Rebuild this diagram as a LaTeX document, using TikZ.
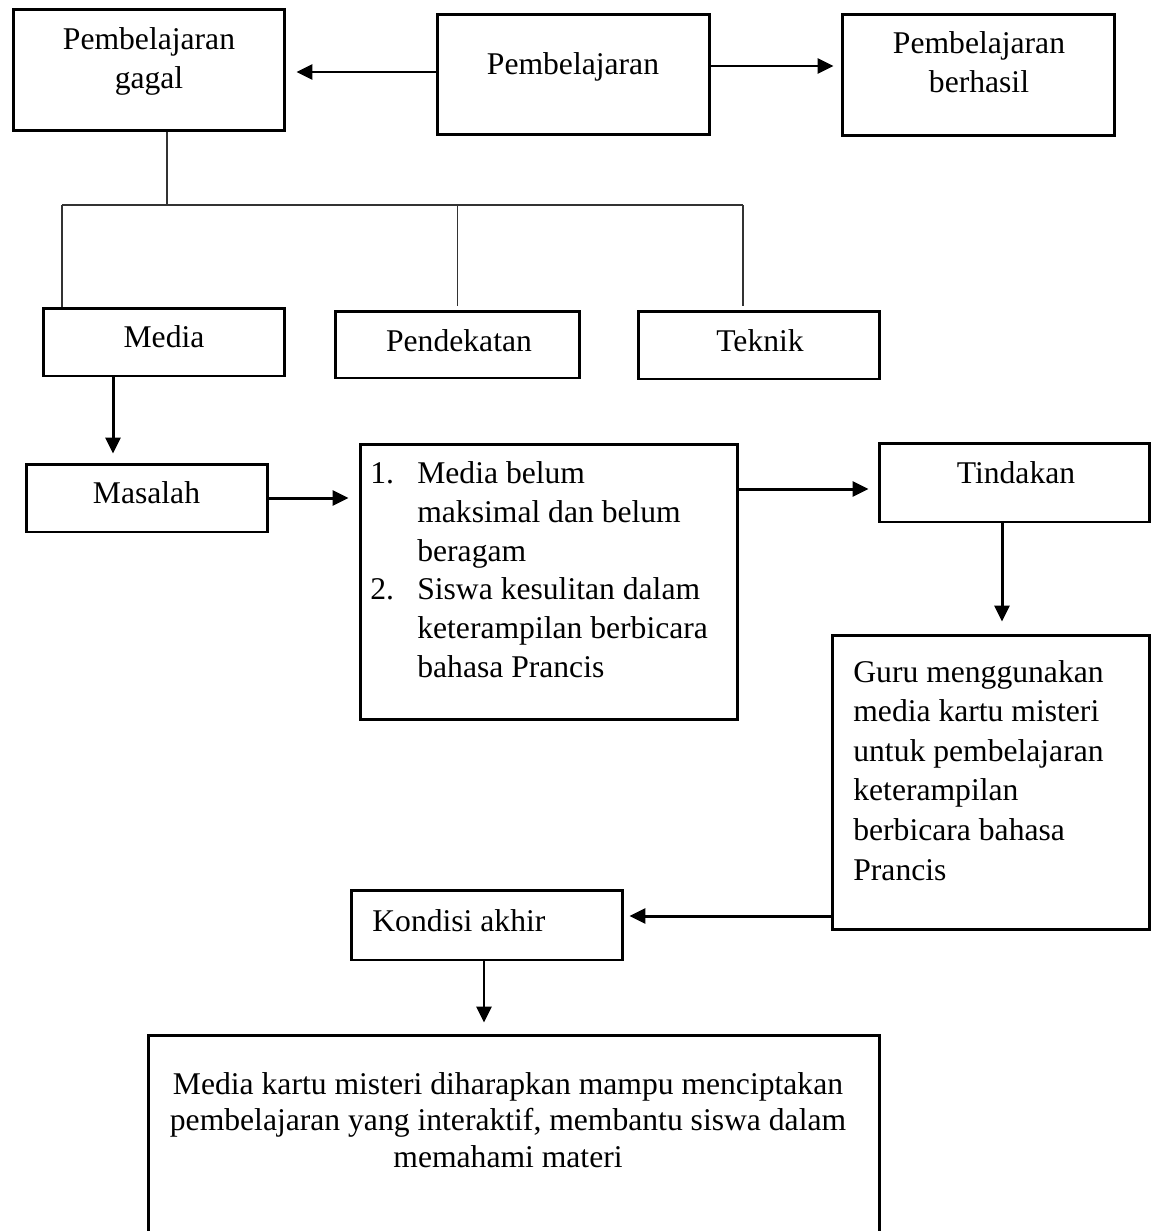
\documentclass[tikz,border=0pt]{standalone}
\usepackage{fontspec}
\setmainfont{Liberation Serif}
\usetikzlibrary{arrows.meta}

\begin{document}
\begin{tikzpicture}
            [x=0.02cm,y=-0.02cm,every node/.style={inner sep=0pt},
             kotak/.style={draw,line width=1.7pt,rectangle},
             teks/.style={font=\fontsize{18}{22}\selectfont,align=center},
             panah/.style={line width=1.7pt,-{Triangle[length=0.32cm,width=0.3cm]}},
             garis/.style={line width=0.8pt,black!80}]
            \useasboundingbox (0,0) rectangle (1154,1231);
            \clip (0,0) rectangle (1154,1231);
            % kotak
            \node[kotak,minimum width=5.44cm,minimum height=2.44cm] (gagal) at (149,70) {};
            \node[kotak,minimum width=5.46cm,minimum height=2.42cm] (pemb) at (573.5,74.5) {};
            \node[kotak,minimum width=5.46cm,minimum height=2.44cm] (berhasil) at (978.5,75) {};
            \node[kotak,minimum width=4.84cm,minimum height=1.36cm] (media) at (164,342) {};
            \node[kotak,minimum width=4.9cm,minimum height=1.34cm] (pendekatan) at (457.5,344.5) {};
            \node[kotak,minimum width=4.84cm,minimum height=1.36cm] (teknik) at (759,345) {};
            \node[kotak,minimum width=4.84cm,minimum height=1.36cm] (masalah) at (147,498) {};
            \node[kotak,minimum width=7.56cm,minimum height=5.52cm] (daftar) at (549,582) {};
            \node[kotak,minimum width=5.42cm,minimum height=1.58cm] (tindakan) at (1014.5,482.5) {};
            \node[kotak,minimum width=6.36cm,minimum height=5.9cm] (guru) at (991,782.5) {};
            \node[kotak,minimum width=5.44cm,minimum height=1.4cm] (kondisi) at (487,925) {};
            \node[kotak,minimum width=14.64cm,minimum height=5.2cm] (harapan) at (514,1165) {};
            % teks (base = baris terakhir)
            \node[teks,anchor=base] (tgagal) at (149,88) {Pembelajaran\\gagal};
            \node[teks,anchor=base] (tpemb) at (573,74) {Pembelajaran};
            \node[teks,anchor=base] (tberhasil) at (979,92) {Pembelajaran\\berhasil};
            \node[teks,anchor=base] (tmedia) at (164,347) {Media};
            \node[teks,anchor=base] (tpendekatan) at (459,351) {Pendekatan};
            \node[teks,anchor=base] (tteknik) at (760,351) {Teknik};
            \node[teks,anchor=base] (tmasalah) at (146.5,503) {Masalah};
            \node[teks,align=left,anchor=base west] (tdaftar) at (370,677)
                {\makebox[0.94cm][l]{1.}Media belum\\\hspace*{0.94cm}maksimal dan belum\\\hspace*{0.94cm}beragam\\
                 \makebox[0.94cm][l]{2.}Siswa kesulitan dalam\\\hspace*{0.94cm}keterampilan berbicara\\\hspace*{0.94cm}bahasa Prancis};
            \node[teks,anchor=base] (ttindakan) at (1016,483) {Tindakan};
            \node[teks,font=\fontsize{18}{22.5}\selectfont,align=left,anchor=base west] (tguru) at (853,880)
                {Guru menggunakan\\media kartu misteri\\untuk pembelajaran\\keterampilan\\berbicara bahasa\\Prancis};
            \node[teks,anchor=base west] (tkondisi) at (372,931) {Kondisi akhir};
            \node[teks,font=\fontsize{18}{20.5}\selectfont,anchor=base] (tharapan) at (508,1167)
                {Media kartu misteri diharapkan mampu menciptakan\\pembelajaran yang interaktif, membantu siswa dalam\\memahami materi};
            % cabang
            \coordinate (cabangkiri) at (62,205);
            \coordinate (cabangkanan) at (743,205);
            \coordinate (turun) at ([xshift=0.36cm]gagal.south);
            \draw[garis] (turun) -- (turun |- cabangkiri);
            \draw[garis] (cabangkiri) -- (cabangkanan);
            \draw[garis] (cabangkiri) -- (cabangkiri |- media.north);
            \draw[garis] (pendekatan.north |- cabangkiri) -- ([yshift=0.08cm]pendekatan.north);
            \coordinate (atasteknik) at ([yshift=0.08cm]teknik.north);
            \draw[garis] (cabangkanan) -- (atasteknik -| cabangkanan);
            % panah
            \coordinate (p1) at ([yshift=0.05cm]pemb.west);
            \coordinate (p2) at ([yshift=0.17cm]pemb.east);
            \coordinate (p3) at ([xshift=-1.02cm]media.south);
            \coordinate (p4) at ([yshift=-0.13cm]tindakan.west);
            \coordinate (p5) at ([xshift=-0.25cm]tindakan.south);
            \coordinate (p6) at ([yshift=0.18cm]kondisi.east);
            \coordinate (p7) at ([xshift=-0.06cm]kondisi.south);
            \draw[panah,shorten >=0.2cm] (p1) -- (p1 -| gagal.east);
            \draw[panah,shorten >=0.14cm] (p2) -- (p2 -| berhasil.west);
            \draw[panah,shorten >=0.18cm] (p3) -- (p3 |- masalah.north);
            \draw[panah,shorten >=0.2cm] (masalah.east) -- (masalah.east -| daftar.west);
            \draw[panah,shorten >=0.18cm] (p4 -| daftar.east) -- (p4);
            \draw[panah,shorten >=0.24cm] (p5) -- (p5 |- guru.north);
            \draw[panah,shorten >=0.1cm] (p6 -| guru.west) -- (p6);
            \draw[panah,shorten >=0.22cm] (p7) -- (p7 |- harapan.north);
        \end{tikzpicture}
\end{document}
